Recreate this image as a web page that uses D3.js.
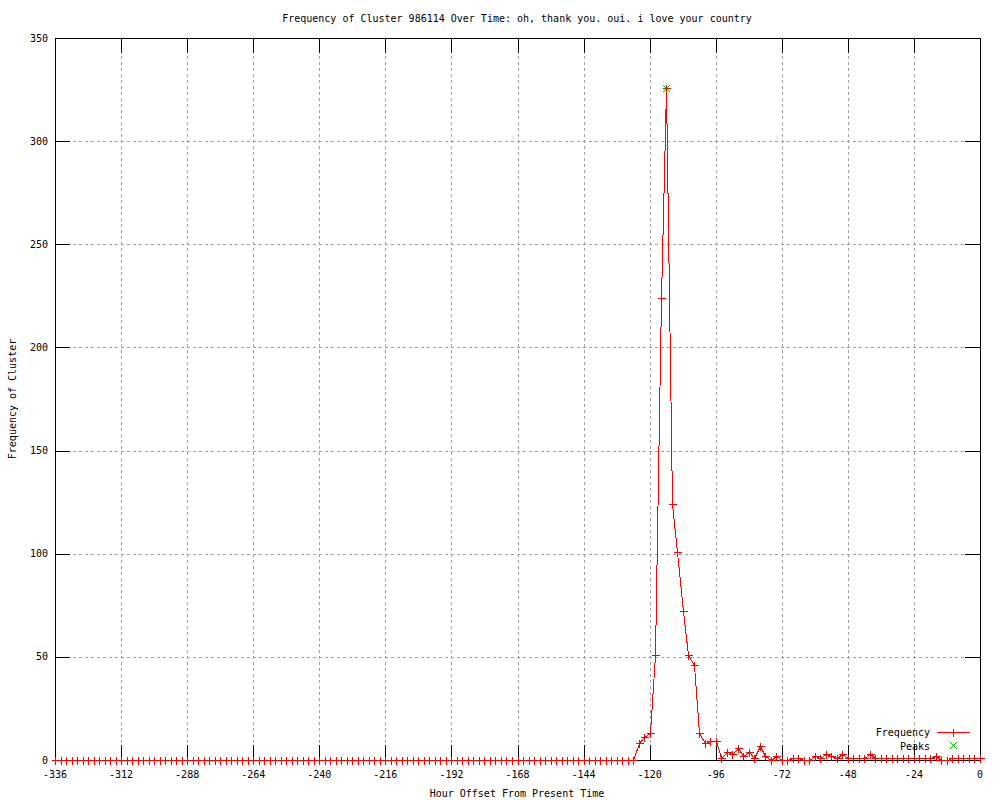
<!DOCTYPE html>
<html>
<head>
<meta charset="utf-8">
<script src="https://cdn.jsdelivr.net/npm/d3@7"></script>
<style>
  html, body { margin: 0; padding: 0; background: #fff; }
  text { font-family: "DejaVu Sans Mono", "Liberation Mono", monospace; font-size: 10px; fill: #000; }
</style>
</head>
<body>
<svg id="chart" width="1000" height="800"></svg>
<script>
// ---- data ----
const titleText = "Frequency of Cluster 986114 Over Time: oh, thank you. oui. i love your country";
const xLabel = "Hour Offset From Present Time";
const yLabel = "Frequency of Cluster";
const xTicks = [-336, -312, -288, -264, -240, -216, -192, -168, -144, -120, -96, -72, -48, -24, 0];
const yTicks = [0, 50, 100, 150, 200, 250, 300, 350];
const hours = d3.range(-336, 1, 2);
const frequency = [
  0,0,0,0,0,0,0,0,0,0, 0,0,0,0,0,0,0,0,0,0,
  0,0,0,0,0,0,0,0,0,0, 0,0,0,0,0,0,0,0,0,0,
  0,0,0,0,0,0,0,0,0,0, 0,0,0,0,0,0,0,0,0,0,
  0,0,0,0,0,0,0,0,0,0, 0,0,0,0,0,0,0,0,0,0,
  0,0,0,0,0,0,0,0,0,0, 0,0,0,0,0,0,0,0,0,0,
  0,0,0,0,0,0,
  8, 11, 13, 51, 224, 326, 124, 101, 72, 51,
  46, 13, 8, 9, 9, 1, 4, 3, 6, 2,
  4, 1, 7, 2, 0, 2, 0, 0, 1, 1,
  0, 0, 2, 1, 3, 2, 1, 3, 1, 1,
  1, 1, 3, 1, 1, 1, 1, 1, 1, 1,
  1, 1, 1, 1, 2, 0, 0, 1, 1, 1,
  1, 1, 1
];
const peakHours = [-114];
const peakValues = [326];
const legendNames = ["Frequency", "Peaks"];

// ---- layout ----
const L = 55, R = 980, T = 38, B = 760;
const tickLen = 15;
const svg = d3.select("#chart");
const x = d3.scaleLinear().domain([-336, 0]).range([L, R]);
const y = d3.scaleLinear().domain([0, 350]).range([B, T]);
const red = "#ff0000", green = "#00c000";
const px = v => Math.round(v) + 0.5;

// grid
const grid = svg.append("g").attr("stroke", "#a0a0a0").attr("stroke-dasharray", "3,3").attr("shape-rendering", "crispEdges");
xTicks.filter(t => t !== -336 && t !== 0).forEach(t => {
  grid.append("line").attr("x1", px(x(t))).attr("x2", px(x(t))).attr("y1", T).attr("y2", B);
});
yTicks.filter(t => t !== 0 && t !== 350).forEach(t => {
  grid.append("line").attr("x1", L).attr("x2", R).attr("y1", px(y(t))).attr("y2", px(y(t)));
});

// data line
const pts = hours.map((h, i) => ({h, v: frequency[i]}));
svg.append("path")
  .datum(pts)
  .attr("fill", "none")
  .attr("stroke", red)
  .attr("stroke-width", 1)
  .attr("shape-rendering", "crispEdges")
  .attr("d", d3.line().x(d => px(x(d.h))).y(d => px(y(d.v))));

// border and ticks
const ax = svg.append("g").attr("stroke", "#000").attr("shape-rendering", "crispEdges");
ax.append("rect").attr("x", px(L)).attr("y", px(T)).attr("width", Math.round(R) - Math.round(L)).attr("height", Math.round(B) - Math.round(T)).attr("fill", "none");
xTicks.forEach(t => {
  ax.append("line").attr("x1", px(x(t))).attr("x2", px(x(t))).attr("y1", B).attr("y2", B - tickLen);
  ax.append("line").attr("x1", px(x(t))).attr("x2", px(x(t))).attr("y1", T).attr("y2", T + tickLen);
});
yTicks.forEach(t => {
  ax.append("line").attr("x1", L).attr("x2", L + tickLen).attr("y1", px(y(t))).attr("y2", px(y(t)));
  ax.append("line").attr("x1", R).attr("x2", R - tickLen).attr("y1", px(y(t))).attr("y2", px(y(t)));
});

// markers for frequency
const mk = svg.append("g").attr("stroke", red).attr("shape-rendering", "crispEdges");
function plus(g, cx, cy, s) {
  g.append("line").attr("x1", cx - s).attr("x2", cx + s + 1).attr("y1", cy).attr("y2", cy);
  g.append("line").attr("x1", cx).attr("x2", cx).attr("y1", cy - s).attr("y2", cy + s + 1);
}
pts.forEach(d => plus(mk, px(x(d.h)), px(y(d.v)), 3.5));

// peaks markers
const pk = svg.append("g").attr("stroke", green);
function cross(g, cx, cy, s) {
  g.append("line").attr("x1", cx - s).attr("x2", cx + s).attr("y1", cy - s).attr("y2", cy + s);
  g.append("line").attr("x1", cx - s).attr("x2", cx + s).attr("y1", cy + s).attr("y2", cy - s);
}
peakHours.forEach((h, i) => cross(pk, px(x(h)), px(y(peakValues[i])), 3.5));

// tick labels
xTicks.forEach(t => {
  svg.append("text").attr("x", x(t)).attr("y", 777.5).attr("text-anchor", "middle").text(String(t).replace("\u2212", "-"));
});
yTicks.forEach(t => {
  svg.append("text").attr("x", 48).attr("y", y(t) + 3.5).attr("text-anchor", "end").text(t);
});

// title and axis labels
svg.append("text").attr("x", 517).attr("y", 22).attr("text-anchor", "middle").text(titleText);
svg.append("text").attr("x", 517).attr("y", 797).attr("text-anchor", "middle").text(xLabel);
svg.append("text").attr("transform", "translate(16,399) rotate(-90)").attr("text-anchor", "middle").text(yLabel);

// legend
const lg = svg.append("g");
lg.append("text").attr("x", 930).attr("y", 736).attr("text-anchor", "end").text(legendNames[0]);
lg.append("text").attr("x", 930).attr("y", 749.5).attr("text-anchor", "end").text(legendNames[1]);
lg.append("line").attr("x1", 937).attr("x2", 970).attr("y1", 732.5).attr("y2", 732.5).attr("stroke", red).attr("shape-rendering", "crispEdges");
plus(lg.append("g").attr("stroke", red).attr("shape-rendering", "crispEdges"), 953.5, 732.5, 3.5);
cross(lg.append("g").attr("stroke", green), 953.5, 745.5, 3.5);
</script>
</body>
</html>
